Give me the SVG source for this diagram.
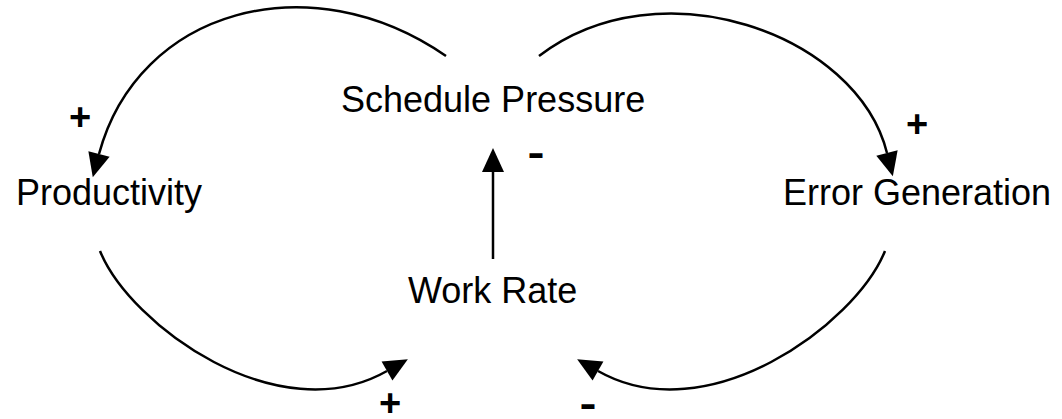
<svg xmlns="http://www.w3.org/2000/svg" width="1062" height="419" viewBox="0 0 1062 419">
  <style>
    .lbl { font-family: "Liberation Sans", Arial, sans-serif; font-size: 36px; fill: #000; }
    .sign { font-family: "Liberation Sans", Arial, sans-serif; font-size: 38px; font-weight: bold; fill: #000; }
    .minus { font-family: "Liberation Sans", Arial, sans-serif; font-size: 40px; font-weight: bold; fill: #000; }
    .link { fill: none; stroke: #000; stroke-width: 2.5; }
  </style>
  <defs>
    <marker id="arrow" markerUnits="userSpaceOnUse" markerWidth="24" markerHeight="22" refX="0" refY="11" orient="auto" overflow="visible">
      <path d="M0,0 L24,11 L0,22 z" fill="#000"/>
    </marker>
  </defs>
  <rect width="1062" height="419" fill="#fff"/>
  <g id="connectors">
    <path class="link" d="M446,56 C310,-38 138,9 99,154" marker-end="url(#arrow)"/>
    <path class="link" d="M539,56 C659,-36 857,33 887,153" marker-end="url(#arrow)"/>
    <path class="link" d="M100,251 C130,325 278,433 387,371" marker-end="url(#arrow)"/>
    <path class="link" d="M885,251 C855,325 707,433 598,371" marker-end="url(#arrow)"/>
    <path class="link" d="M493,259 L493,172" marker-end="url(#arrow)"/>
    <text class="sign" x="69" y="130">+</text>
    <text class="sign" x="906" y="137">+</text>
    <text class="sign" x="379" y="416">+</text>
    <text class="minus" x="527.5" y="166" textLength="17" lengthAdjust="spacingAndGlyphs">-</text>
    <text class="minus" x="579.5" y="417" textLength="17" lengthAdjust="spacingAndGlyphs">-</text>
  </g>
  <g id="schedule-pressure">
    <text class="lbl" x="341" y="112">Schedule Pressure</text>
  </g>
  <g id="productivity">
    <text class="lbl" x="16" y="205">Productivity</text>
  </g>
  <g id="error-generation">
    <text class="lbl" x="783" y="205">Error Generation</text>
  </g>
  <g id="work-rate">
    <text class="lbl" x="408" y="303">Work Rate</text>
  </g>
</svg>
